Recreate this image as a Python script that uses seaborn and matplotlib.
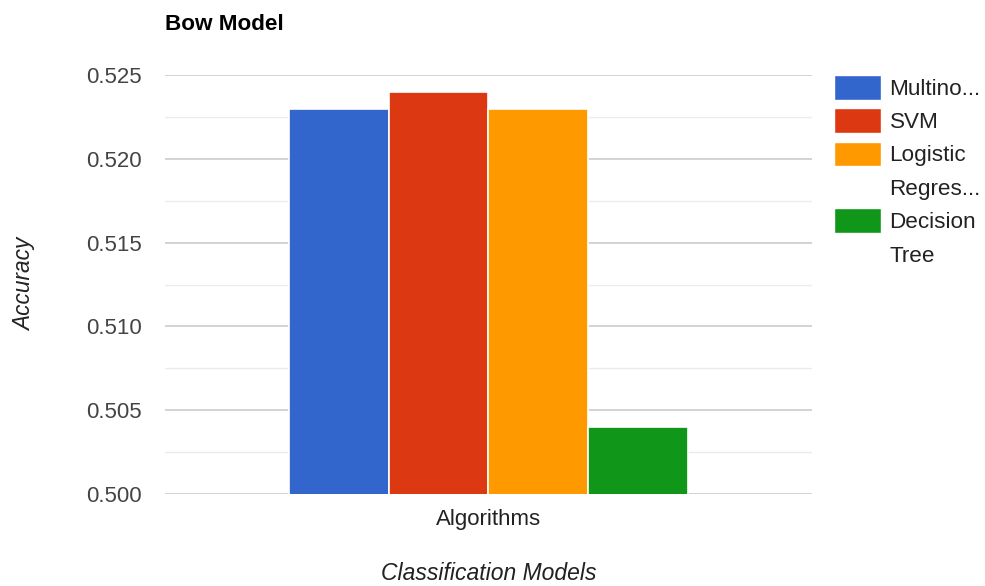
import matplotlib
matplotlib.use("Agg")
import matplotlib.pyplot as plt
import seaborn as sns
import pandas as pd
from matplotlib.ticker import MultipleLocator, FormatStrFormatter

# Data
models = ["Multinomial Naive Bayes", "SVM", "Logistic Regression", "Decision Tree"]
accuracy = [0.523, 0.524, 0.523, 0.504]
category = ["Algorithms"] * 4
colors = ["#3366cc", "#dc3912", "#ff9900", "#109618"]
# legend rows (first line with swatch, continuation lines without)
legend_rows = ["Multino...", "SVM", "Logistic", "Regres...", "Decision", "Tree"]
legend_row_colors = ["#3366cc", "#dc3912", "#ff9900", None, "#109618", None]

df = pd.DataFrame({"Category": category, "Model": models, "Accuracy": accuracy})

sns.set_theme(style="white")
plt.rcParams["font.family"] = ["Liberation Sans", "DejaVu Sans"]

fig = plt.figure(figsize=(9.85, 5.86), dpi=100)
ax = fig.add_axes([165/985, 1 - 494/586, (812-165)/985, (494-75)/586])

sns.barplot(data=df, x="Category", y="Accuracy", hue="Model", palette=colors,
            saturation=1, width=0.618, edgecolor="white", linewidth=1.2, ax=ax,
            legend=False, zorder=3)

ax.set_xlim(-0.5, 0.5)
ax.set_ylim(0.500, 0.525)
ax.yaxis.set_major_locator(MultipleLocator(0.005))
ax.yaxis.set_minor_locator(MultipleLocator(0.0025))
ax.yaxis.set_major_formatter(FormatStrFormatter("%.3f"))
ax.grid(axis="y", which="major", color="#cccccc", linewidth=1.2, zorder=0)
ax.grid(axis="y", which="minor", color="#ebebeb", linewidth=1.0, zorder=0)
ax.set_axisbelow(True)
for s in ax.spines.values():
    s.set_visible(False)

ax.tick_params(axis="y", which="both", length=0, pad=17, labelsize=16, labelcolor="#444444")
ax.tick_params(axis="x", length=0, pad=11, labelsize=16, labelcolor="#222222")

ax.set_ylabel("Accuracy", fontsize=16.3, style="italic", color="#222222", labelpad=36)
ax.set_xlabel("Classification Models", fontsize=16.5, style="italic", color="#222222", labelpad=23)

fig.text(165/985, 1 - 25/586, "Bow Model", fontsize=16.2, fontweight="bold",
         color="#000000", va="center", ha="left")

handles = []
for c in legend_row_colors:
    if c is None:
        handles.append(plt.Rectangle((0, 0), 1, 1, facecolor="none", edgecolor="none"))
    else:
        handles.append(plt.Rectangle((0, 0), 1, 1, facecolor=c, edgecolor="white"))
leg = ax.legend(handles, legend_rows, loc="upper left",
                bbox_to_anchor=(834/985, 1 - 75/586), bbox_transform=fig.transFigure,
                frameon=False, fontsize=16.2, handlelength=2.07, handleheight=1.3,
                handletextpad=0.4, labelspacing=0.38, borderpad=0, borderaxespad=0)
for t in leg.get_texts():
    t.set_color("#222222")

fig.savefig("out.png", dpi=100)
